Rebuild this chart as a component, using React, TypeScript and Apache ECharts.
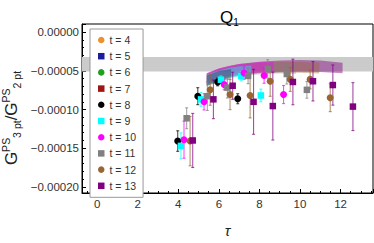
import React, { useEffect, useRef } from "react";
import * as echarts from "echarts";

// ---- data ----
const tValues = [4, 5, 6, 7, 8, 9, 10, 11, 12, 13];
const legendNames = ["t = 4", "t = 5", "t = 6", "t = 7", "t = 8", "t = 9", "t = 10", "t = 11", "t = 12", "t = 13"];
const xTickLabels = ["0", "2", "4", "6", "8", "10", "12"];
const yTickLabels = ["0.00000", "−0.00005", "−0.00010", "−0.00015", "−0.00020"];

const tau8 = [3.97, 4.96, 5.94, 6.93];
const val8 = [-1.408e-4, -0.827e-4, -0.643e-4, -0.86e-4];
const err8 = [1.33e-5, 1.1e-5, 0.5e-5, 0.65e-5];

const tau9 = [4.13, 5.12, 6.1, 7.1, 8.07];
const val9 = [-1.47e-4, -0.868e-4, -0.614e-4, -0.569e-4, -0.818e-4];
const err9 = [1.68e-5, 0.9e-5, 0.5e-5, 0.6e-5, 0.82e-5];

const tau10 = [4.28, 5.27, 6.26, 7.24, 8.23, 9.19];
const val10 = [-1.39e-4, -0.9e-4, -0.675e-4, -0.528e-4, -0.56e-4, -0.806e-4];
const err10 = [2.4e-5, 1.05e-5, 0.7e-5, 0.8e-5, 1.0e-5, 1.17e-5];

const tau11 = [4.41, 5.43, 6.42, 7.44, 8.41, 9.35, 10.34];
const val11 = [-1.113e-4, -0.827e-4, -0.716e-4, -0.565e-4, -0.475e-4, -0.54e-4, -0.745e-4];
const err11 = [1.35e-5, 1.85e-5, 1.35e-5, 1.0e-5, 1.2e-5, 1.3e-5, 1.08e-5];

const tau12 = [4.58, 5.57, 6.55, 7.54, 8.53, 9.52, 10.5, 11.49];
const val12 = [-1.408e-4, -0.745e-4, -0.806e-4, -0.818e-4, -0.634e-4, -0.61e-4, -0.61e-4, -0.847e-4];
const err12 = [3.2e-5, 2.0e-5, 1.95e-5, 2.9e-5, 1.95e-5, 1.55e-5, 1.23e-5, 1.8e-5];

const tau13 = [4.71, 5.73, 6.68, 7.71, 8.66, 9.65, 10.64, 11.62, 12.61];
const val13 = [-1.4e-4, -0.868e-4, -0.692e-4, -0.9e-4, -0.955e-4, -0.643e-4, -0.634e-4, -0.683e-4, -0.962e-4];
const err13 = [3.5e-5, 2.5e-5, 1.75e-5, 4.2e-5, 4.4e-5, 2.95e-5, 2.55e-5, 2.6e-5, 3.1e-5];

// fit bands (tau nodes, upper, lower)
const bandTau8 = [5.4, 6.0, 6.6];
const bandHi8 = [-5.6e-5, -5.0e-5, -4.75e-5];
const bandLo8 = [-7.0e-5, -6.4e-5, -6.1e-5];
const bandTau9 = [5.4, 6.0, 6.5, 7.0, 7.6];
const bandHi9 = [-5.5e-5, -4.95e-5, -4.6e-5, -4.4e-5, -4.3e-5];
const bandLo9 = [-6.9e-5, -6.2e-5, -5.9e-5, -5.7e-5, -5.6e-5];
const bandTau10 = [5.4, 6.0, 6.5, 7.0, 8.0, 8.7];
const bandHi10 = [-5.3e-5, -4.7e-5, -4.35e-5, -4.1e-5, -3.85e-5, -3.8e-5];
const bandLo10 = [-6.7e-5, -6.0e-5, -5.65e-5, -5.4e-5, -5.2e-5, -5.2e-5];
const bandTau11 = [5.4, 6.0, 6.5, 7.0, 8.0, 9.0, 9.8];
const bandHi11 = [-5.5e-5, -4.9e-5, -4.55e-5, -4.3e-5, -4.05e-5, -3.95e-5, -4.0e-5];
const bandLo11 = [-7.0e-5, -6.3e-5, -5.95e-5, -5.7e-5, -5.45e-5, -5.35e-5, -5.4e-5];
const bandTau12 = [5.4, 6.0, 6.5, 7.0, 8.0, 9.0, 10.0, 10.95];
const bandHi12 = [-5.4e-5, -4.8e-5, -4.45e-5, -4.2e-5, -3.95e-5, -3.85e-5, -3.85e-5, -3.95e-5];
const bandLo12 = [-6.9e-5, -6.2e-5, -5.85e-5, -5.6e-5, -5.35e-5, -5.25e-5, -5.25e-5, -5.35e-5];
const bandTau13 = [5.4, 6.0, 6.5, 7.0, 8.0, 9.0, 10.0, 11.0, 12.1];
const bandHi13 = [-5.3e-5, -4.7e-5, -4.35e-5, -4.1e-5, -3.8e-5, -3.65e-5, -3.6e-5, -3.65e-5, -3.95e-5];
const bandLo13 = [-6.8e-5, -6.1e-5, -5.75e-5, -5.5e-5, -5.25e-5, -5.15e-5, -5.1e-5, -5.15e-5, -5.3e-5];

const greyBand = [-5.07e-5, -3.19e-5];

const colors: Record<number, string> = {
  4: "#f0902c", 5: "#1c1c9c", 6: "#20a020", 7: "#a01414", 8: "#000000",
  9: "#00ffff", 10: "#ff00ff", 11: "#808080", 12: "#996633", 13: "#800080",
};
const bandOpacity: Record<number, number> = { 8: 0.25, 9: 0.4, 10: 0.4, 11: 0.3, 12: 0.4, 13: 0.45 };

const points: Record<number, number[][]> = {
  8: [tau8, val8, err8], 9: [tau9, val9, err9], 10: [tau10, val10, err10],
  11: [tau11, val11, err11], 12: [tau12, val12, err12], 13: [tau13, val13, err13],
};
const bands: Record<number, number[][]> = {
  8: [bandTau8, bandHi8, bandLo8], 9: [bandTau9, bandHi9, bandLo9], 10: [bandTau10, bandHi10, bandLo10],
  11: [bandTau11, bandHi11, bandLo11], 12: [bandTau12, bandHi12, bandLo12], 13: [bandTau13, bandHi13, bandLo13],
};

const X_MIN = -0.75, X_MAX = 13.6;
const Y_MIN = -0.000208, Y_MAX = 0.0000107;

const FONT = "'Liberation Sans', Arial, sans-serif";

export default function App() {
  const ref = useRef<HTMLDivElement>(null);
  useEffect(() => {
    if (!ref.current) return;
    const chart = echarts.init(ref.current, null, { renderer: "svg" });
    const series: any[] = [];

    // grey horizontal band
    series.push({
      type: "custom",
      name: "greyband",
      data: [[X_MIN, greyBand[0], X_MAX, greyBand[1]]],
      renderItem: (params: any, api: any) => {
        const p1 = api.coord([api.value(0), api.value(3)]);
        const p2 = api.coord([api.value(2), api.value(1)]);
        return {
          type: "rect",
          shape: { x: p1[0], y: p1[1], width: p2[0] - p1[0], height: p2[1] - p1[1] },
          style: { fill: "#cbcbcb" },
        };
      },
      silent: true,
    });

    // fit bands (longest first, shorter ones on top)
    [13, 12, 11, 10, 9, 8].forEach((t) => {
      const [bt, hi, lo] = bands[t];
      series.push({
        type: "custom",
        name: "band" + t,
        data: bt.map((x, i) => [x, hi[i], lo[i]]),
        renderItem: (params: any, api: any) => {
          if (params.dataIndex !== 0) return null;
          const pts: number[][] = [];
          for (let i = 0; i < bt.length; i++) pts.push(api.coord([bt[i], hi[i]]));
          for (let i = bt.length - 1; i >= 0; i--) pts.push(api.coord([bt[i], lo[i]]));
          return {
            type: "polygon",
            shape: { points: pts },
            style: { fill: colors[t], opacity: bandOpacity[t] },
          };
        },
        silent: true,
      });
    });

    // points with error bars
    tValues.forEach((t, k) => {
      const d = points[t];
      const isCircle = t % 2 === 0;
      if (d) {
        const [tx, vy, er] = d;
        series.push({
          type: "custom",
          name: "err" + t,
          data: tx.map((x, i) => [x, vy[i], er[i]]),
          renderItem: (params: any, api: any) => {
            const x = api.value(0), y = api.value(1), e = api.value(2);
            const top = api.coord([x, y + e]);
            const bot = api.coord([x, y - e]);
            const st = { stroke: colors[t], lineWidth: 1.1, opacity: 0.7 };
            return {
              type: "group",
              children: [
                { type: "line", shape: { x1: top[0], y1: top[1], x2: bot[0], y2: bot[1] }, style: st },
                { type: "line", shape: { x1: top[0] - 1.5, y1: top[1], x2: top[0] + 1.5, y2: top[1] }, style: st },
                { type: "line", shape: { x1: bot[0] - 1.5, y1: bot[1], x2: bot[0] + 1.5, y2: bot[1] }, style: st },
              ],
            };
          },
          silent: true,
        });
      }
      series.push({
        type: "scatter",
        name: legendNames[k],
        symbol: isCircle ? "circle" : "rect",
        symbolSize: isCircle ? 7 : 6.5,
        itemStyle: { color: colors[t], opacity: 1 },
        data: d ? d[0].map((x, i) => [x, d[1][i]]) : [],
        silent: true,
      });
    });

    const option: any = {
      animation: false,
      title: {
        text: "{q|Q}{s|1}",
        left: 215,
        top: 2,
        textStyle: {
          fontWeight: "normal",
          rich: {
            q: { fontSize: 17, fontFamily: FONT, color: "#000", fontWeight: "normal", lineHeight: 20 },
            s: { fontSize: 10, fontFamily: FONT, color: "#000", fontWeight: "normal", verticalAlign: "bottom", lineHeight: 10 },
          },
        },
      },
      legend: {
        orient: "vertical",
        left: 90,
        top: 29,
        data: legendNames.map((n, i) => ({ name: n, icon: tValues[i] % 2 === 0 ? "circle" : "rect" })),
        itemWidth: 6.5,
        itemHeight: 6.5,
        itemGap: 5.2,
        padding: [5.5, 7, 6, 8],
        borderColor: "#999",
        borderWidth: 1,
        backgroundColor: "#fff",
        selectedMode: false,
        textStyle: { fontSize: 10.5, fontFamily: FONT, color: "#333", lineHeight: 11 },
      },
      grid: {
        left: 82, right: 1, top: 24, bottom: 41,
        show: true, borderColor: "#000", borderWidth: 1, backgroundColor: "transparent",
      },
      xAxis: {
        type: "value",
        min: X_MIN,
        max: X_MAX,
        splitNumber: 7,
        minInterval: 2,
        maxInterval: 2,
        name: "τ",
        nameLocation: "middle",
        nameGap: 30,
        nameTextStyle: { fontSize: 15, fontStyle: "italic", fontFamily: FONT, color: "#222" },
        axisLine: { show: true, onZero: false, lineStyle: { color: "#000" } },
        axisTick: { show: true, inside: true, length: 4, lineStyle: { color: "#000" } },
        minorTick: { show: true, splitNumber: 4, length: 2, lineStyle: { color: "#000" } },
        splitLine: { show: false },
        axisLabel: {
          fontSize: 11.5,
          fontFamily: FONT,
          color: "#333",
          margin: 5,
          showMinLabel: false,
          showMaxLabel: false,
          formatter: (v: number) => {
            const r = Math.round(v);
            if (Math.abs(v - r) > 1e-6 || r % 2 !== 0) return "";
            const s = String(r);
            return xTickLabels.indexOf(s) >= 0 ? s : "";
          },
        },
      },
      yAxis: {
        type: "value",
        min: Y_MIN,
        max: Y_MAX,
        splitNumber: 4,
        minInterval: 0.00005,
        maxInterval: 0.00005,
        axisLine: { show: true, onZero: false, lineStyle: { color: "#000" } },
        axisTick: { show: true, inside: true, length: 4, lineStyle: { color: "#000" } },
        minorTick: { show: true, splitNumber: 5, length: 2, lineStyle: { color: "#000" } },
        splitLine: { show: false },
        axisLabel: {
          fontSize: 11.5,
          fontFamily: FONT,
          color: "#333",
          margin: 3,
          showMinLabel: false,
          showMaxLabel: false,
          formatter: (v: number) => {
            const k = v / 0.00005;
            const r = Math.round(k);
            if (Math.abs(k - r) > 1e-6 || r > 0 || r < -4) return "";
            return yTickLabels[-r];
          },
        },
      },
      graphic: [
        {
          type: "text",
          x: 11,
          y: 118,
          rotation: Math.PI / 2,
          style: {
            text: "{g|G}{sup|PS}{sub|3 pt}{g|/G}{sup|PS}{sub|2 pt}",
            align: "center",
            verticalAlign: "middle",
            rich: {
              g: { fontSize: 17, fontFamily: FONT, fill: "#222", lineHeight: 22 },
              sup: { fontSize: 10.5, fontFamily: FONT, fill: "#222", lineHeight: 11, verticalAlign: "top" },
              sub: { fontSize: 10.5, fontFamily: FONT, fill: "#222", lineHeight: 11, verticalAlign: "bottom" },
            },
          },
        },
      ],
      series,
    };
    chart.setOption(option);
    return () => chart.dispose();
  }, []);
  return <div ref={ref} style={{ position: "absolute", left: 0, top: 0, width: 374, height: 243 }} />;
}
